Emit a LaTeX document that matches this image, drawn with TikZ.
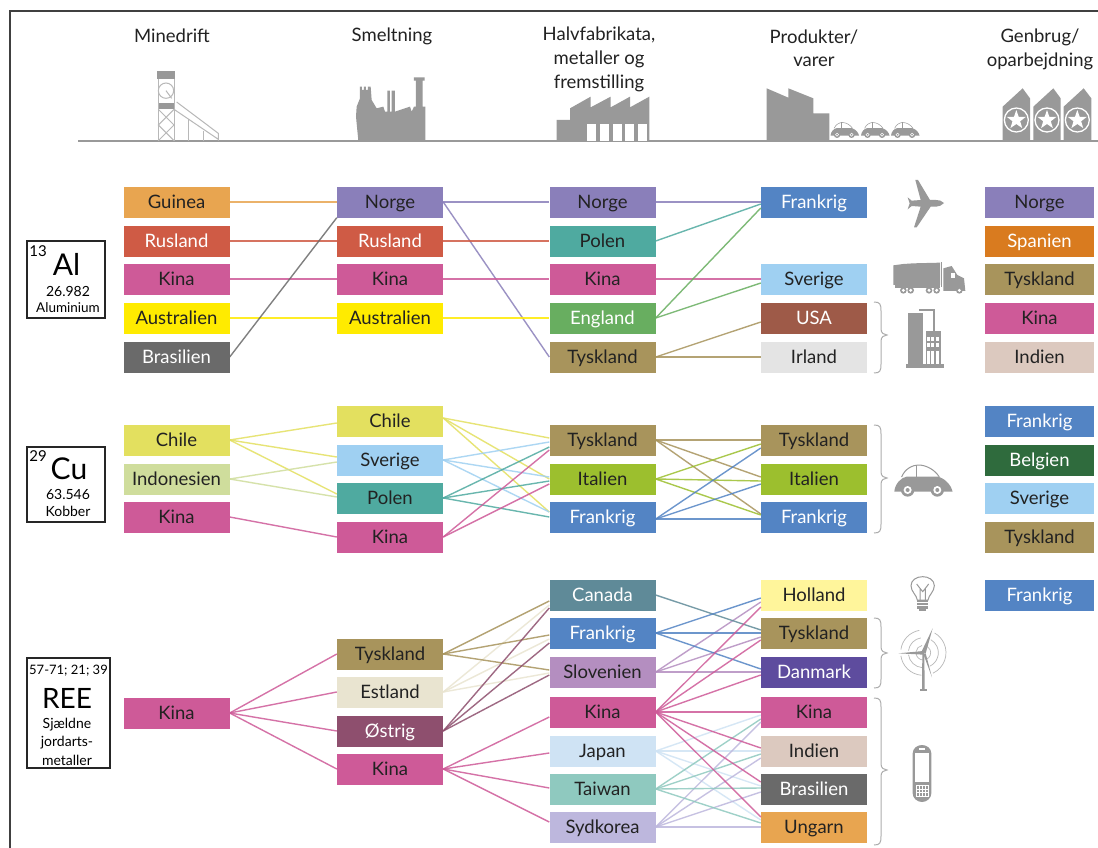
\documentclass[tikz,border=0pt]{standalone}
\usepackage{fontspec}
\setmainfont{Lato}
\definecolor{cGui}{HTML}{E8A550}
\definecolor{cRus}{HTML}{CF5B45}
\definecolor{cKin}{HTML}{CE5A98}
\definecolor{cAus}{HTML}{FFEB00}
\definecolor{cBra}{HTML}{6A6A6A}
\definecolor{cNor}{HTML}{8A7FBA}
\definecolor{cPol}{HTML}{4FAAA0}
\definecolor{cEng}{HTML}{68AE60}
\definecolor{cTys}{HTML}{A8945C}
\definecolor{cFra}{HTML}{5384C4}
\definecolor{cSve}{HTML}{9FD0F2}
\definecolor{cUSA}{HTML}{9E5A48}
\definecolor{cIrl}{HTML}{E4E4E4}
\definecolor{cSpa}{HTML}{D97B1F}
\definecolor{cInd}{HTML}{DCC9BF}
\definecolor{cChi}{HTML}{E3E05F}
\definecolor{cIdn}{HTML}{CFDD9C}
\definecolor{cIta}{HTML}{9CBF2E}
\definecolor{cBel}{HTML}{2F6B3D}
\definecolor{cCan}{HTML}{5F8A98}
\definecolor{cSlo}{HTML}{B48EC0}
\definecolor{cHol}{HTML}{FFF59B}
\definecolor{cDan}{HTML}{5E4C9E}
\definecolor{cEst}{HTML}{E9E4D0}
\definecolor{cOst}{HTML}{8E4F6E}
\definecolor{cJap}{HTML}{CFE3F4}
\definecolor{cTai}{HTML}{8FC9BF}
\definecolor{cSyd}{HTML}{BDB7DD}
\definecolor{cIcon}{HTML}{999999}
\definecolor{cInk}{HTML}{222222}
\tikzset{
  bk/.style={rectangle,minimum width=106pt,minimum height=31pt,inner sep=0pt,text height=17pt,text depth=4pt,font=\fontsize{18.5}{20}\selectfont,text=cInk},
  bw/.style={bk,text=white},
  lnk/.style={line width=1.4pt,opacity=0.85},
  head/.style={font=\fontsize{18.5}{20}\selectfont,text=cInk,inner sep=0pt},
  sm/.style={font=\fontsize{14}{16}\selectfont,text=black,inner sep=0pt},
  big/.style={font=\fontsize{30}{32}\selectfont,text=black,inner sep=0pt},
  elem/.style={draw=black!85,line width=1.5pt,fill=white},
  brace/.style={draw=cIcon!80,line width=1pt},
}
% \cn{colour}{start coordinate}{destination/offset downwards in px, ...}
\newcommand\cn[3]{\foreach \dd/\oo in {#3}{\draw[lnk,#1] (#2) -- ([yshift=-\oo pt]\dd.west);}}
\newcommand\brc[4]{\draw[brace] (#1,#2) .. controls (#1+6,#2) and (#1+7,#2+2) .. (#1+7,#2+9) -- (#1+7,#3-6) .. controls (#1+7,#3-2) and (#1+10,#3) .. (#1+13,#3) .. controls (#1+10,#3) and (#1+7,#3+2) .. (#1+7,#3+6) -- (#1+7,#4-9) .. controls (#1+7,#4-2) and (#1+6,#4) .. (#1,#4);}
\newcommand\caricon[1]{%
  \fill[cIcon] (0,80) .. controls (2,55) and (22,37) .. (37,35) -- (132,35) .. controls (157,43) and (172,65) .. (175,80) -- cycle;
  \draw[cIcon,line width=#1] (22,36) .. controls (32,10) and (57,0) .. (72,0) .. controls (97,0) and (122,15) .. (135,36);
  \draw[cIcon,line width=#1] (67,0) -- (67,36);
  \foreach \wx in {40,129}{
    \fill[cIcon] (\wx,75) circle[radius=20];
    \fill[white] (\wx,75) circle[radius=12];
    \fill[cIcon] (\wx,75) circle[radius=6];
  }
}
\newcommand\starring{%
  \draw[white,line width=1.3pt] (0,0) circle[radius=36];
  \fill[white] (270:30) -- (306:12) -- (342:30) -- (18:12) -- (54:30) -- (90:12) -- (126:30) -- (162:12) -- (198:30) -- (234:12) -- cycle;
}
\begin{document}
\begin{tikzpicture}[x=1pt,y=-1pt]
\useasboundingbox (0,0) rectangle (1098,848);
\fill[white] (0,0) rectangle (1098,848);
\draw[black!75,line width=2pt] (10,848) -- (10,11) -- (1098,11);
\draw[cIcon,line width=1.5pt] (78,141) -- (1098,141);

% headers
\node[head] (h1) at (172,36) {Minedrift};
\node[head] (h2) at (392,36) {Smeltning};
\node[head,align=center] (h3) at (599,59) {Halvfabrikata,\\[4pt]metaller og\\[4pt]fremstilling};
\node[head,align=center] (h4) at (814,48) {Produkter/\\[3pt]varer};
\node[head,align=center] (h5) at (1040,49) {Genbrug/\\[4pt]oparbejdning};

% header icons
\begin{scope}[shift={(100,0)},scale=1/3]
  \fill[cIcon] (171,214) rectangle (226,236);
  \fill[cIcon] (174,310) rectangle (222,328);
  \draw[cIcon!70,line width=1pt] (175,236) -- (175,422) (222,236) -- (222,422);
  \draw[cIcon!70,line width=1pt] (198,272) circle[radius=23];
  \draw[cIcon!70,line width=1pt] (198,272) -- (215,295);
  \draw[cIcon!70,line width=1pt] (175,328) -- (222,375) -- (175,422) (222,328) -- (175,375) -- (222,422);
  \draw[cIcon!70,line width=1pt] (222,328) -- (355,418) -- (355,422) (230,306) -- (355,400) -- (355,418);
  \draw[cIcon!70,line width=1pt] (265,358) -- (265,422) (310,392) -- (310,422);
  \fill[cIcon] (775,422) -- (768,350) -- (770,320) -- (780,295) -- (780,260) -- (786,260) -- (786,270) -- (792,270) -- (792,260) -- (798,260) -- (798,270) -- (804,270) -- (804,260) -- (812,260) -- (815,300) -- (830,325) -- (850,320) -- (855,335) -- (862,335) -- (862,272) -- (870,272) -- (870,335) -- (875,335) -- (875,272) -- (885,272) -- (885,335) -- (900,330) -- (930,320) -- (935,335) -- (942,320) -- (948,320) -- (948,242) -- (942,242) -- (942,232) -- (974,232) -- (974,242) -- (968,242) -- (968,320) -- (976,320) -- (976,422) -- cycle;
\end{scope}
\begin{scope}[shift={(540,40)},scale=1/3]
  \fill[cIcon] (50,302) -- (50,240) -- (90,240) -- (90,205) -- (152,170) -- (152,202) -- (212,170) -- (212,202) -- (270,170) -- (270,202) -- (328,170) -- (328,302) -- cycle;
  \foreach \wx in {140,179,218,256,295}{\fill[white] (\wx,252) rectangle (\wx+27,302);}
\end{scope}
\begin{scope}[shift={(700,0)},scale=1/3]
  \fill[cIcon] (200,422) -- (200,265) -- (265,293) -- (265,265) -- (340,295) -- (340,340) -- (388,340) -- (388,422) -- cycle;
  \fill[cIcon] (908,422) -- (908,320) -- (968,265) -- (990,295) -- (990,422) -- cycle;
  \fill[cIcon] (1000,422) -- (1000,320) -- (1060,265) -- (1082,295) -- (1082,422) -- cycle;
  \fill[cIcon] (1091,422) -- (1091,320) -- (1151,265) -- (1174,295) -- (1174,422) -- cycle;
  \begin{scope}[shift={(949,360)}]\starring\end{scope}
  \begin{scope}[shift={(1041,360)}]\starring\end{scope}
  \begin{scope}[shift={(1132,360)}]\starring\end{scope}
\end{scope}
\begin{scope}[shift={(830.5,122.5)},scale=0.163]\caricon{0.5pt}\end{scope}
\begin{scope}[shift={(861,122.5)},scale=0.163]\caricon{0.5pt}\end{scope}
\begin{scope}[shift={(891,122.5)},scale=0.163]\caricon{0.5pt}\end{scope}

% element boxes
\draw[elem] (27,241) rectangle (105,318);
\node[sm,font=\fontsize{15}{16}\selectfont] (e1n) at (38,251) {13};
\node[big] (e1s) at (66.5,264) {Al};
\node[sm] (e1m) at (68,291) {26.982};
\node[sm,font=\fontsize{13.5}{16}\selectfont] (e1t) at (68,308) {Aluminium};

\draw[elem] (27,447) rectangle (105,522);
\node[sm,font=\fontsize{15}{16}\selectfont] (e2n) at (38,456) {29};
\node[big] (e2s) at (69,469) {Cu};
\node[sm] (e2m) at (68,494) {63.546};
\node[sm] (e2t) at (68,511) {Kobber};

\draw[elem] (27,658) rectangle (110,768);
\node[sm,font=\fontsize{13}{16}\selectfont] (e3n) at (68.5,671) {57-71; 21; 39};
\node[big,font=\fontsize{28}{30}\selectfont] (e3s) at (67,698) {REE};
\node[sm] (e3a) at (67,725) {Sjældne};
\node[sm] (e3b) at (67,743) {jordarts-};
\node[sm] (e3c) at (67,760) {metaller};

% Aluminium
\node[bk,fill=cGui] (a1a) at (176.5,202) {Guinea};
\node[bw,fill=cRus] (a1b) at (176.5,241) {Rusland};
\node[bk,fill=cKin] (a1c) at (176.5,279) {Kina};
\node[bk,fill=cAus] (a1d) at (176.5,318) {Australien};
\node[bw,fill=cBra] (a1e) at (176.5,357) {Brasilien};
\node[bk,fill=cNor] (a2a) at (390,202) {Norge};
\node[bw,fill=cRus] (a2b) at (390,241) {Rusland};
\node[bk,fill=cKin] (a2c) at (390,279) {Kina};
\node[bk,fill=cAus] (a2d) at (390,318) {Australien};
\node[bk,fill=cNor] (a3a) at (602.5,202) {Norge};
\node[bk,fill=cPol] (a3b) at (602.5,241) {Polen};
\node[bk,fill=cKin] (a3c) at (602.5,279) {Kina};
\node[bw,fill=cEng] (a3d) at (602.5,318) {England};
\node[bk,fill=cTys] (a3e) at (602.5,357) {Tyskland};
\node[bw,fill=cFra] (a4a) at (814,202) {Frankrig};
\node[bk,fill=cSve] (a4b) at (814,279) {Sverige};
\node[bw,fill=cUSA] (a4c) at (814,318) {USA};
\node[bk,fill=cIrl] (a4d) at (814,357) {Irland};
\node[bk,fill=cNor,minimum width=109pt] (a5a) at (1039.5,202) {Norge};
\node[bw,fill=cSpa,minimum width=109pt] (a5b) at (1039.5,241) {Spanien};
\node[bk,fill=cTys,minimum width=109pt] (a5c) at (1039.5,279) {Tyskland};
\node[bk,fill=cKin,minimum width=109pt] (a5d) at (1039.5,318) {Kina};
\node[bk,fill=cInd,minimum width=109pt] (a5e) at (1039.5,357) {Indien};
\cn{cGui}{a1a.east}{a2a/0}
\cn{cRus}{a1b.east}{a2b/0}
\cn{cKin}{a1c.east}{a2c/0}
\cn{cAus}{a1d.east}{a2d/0}
\draw[lnk,cBra] (a1e.east) -- (a2a.south west);
\cn{cNor}{a2a.east}{a3a/0,a3e/0}
\cn{cRus}{a2b.east}{a3b/0}
\cn{cKin}{a2c.east}{a3c/0}
\cn{cAus}{a2d.east}{a3d/0}
\cn{cNor}{a3a.east}{a4a/0}
\cn{cPol}{a3b.east}{a4a/2}
\cn{cKin}{a3c.east}{a4b/0}
\cn{cEng}{a3d.east}{a4a/6,a4b/4}
\cn{cTys}{a3e.east}{a4c/4,a4d/0}

% Copper
\node[bk,fill=cChi] (c1a) at (176.5,440) {Chile};
\node[bk,fill=cIdn] (c1b) at (176.5,479) {Indonesien};
\node[bk,fill=cKin] (c1c) at (176.5,517) {Kina};
\node[bk,fill=cChi] (c2a) at (390,421) {Chile};
\node[bk,fill=cSve] (c2b) at (390,460) {Sverige};
\node[bk,fill=cPol] (c2c) at (390,498) {Polen};
\node[bk,fill=cKin] (c2d) at (390,537) {Kina};
\node[bk,fill=cTys] (c3a) at (602.5,440) {Tyskland};
\node[bk,fill=cIta] (c3b) at (602.5,479) {Italien};
\node[bw,fill=cFra] (c3c) at (602.5,517) {Frankrig};
\node[bk,fill=cTys] (c4a) at (814,440) {Tyskland};
\node[bk,fill=cIta] (c4b) at (814,479) {Italien};
\node[bw,fill=cFra] (c4c) at (814,517) {Frankrig};
\node[bw,fill=cFra,minimum width=109pt] (c5a) at (1039.5,421) {Frankrig};
\node[bw,fill=cBel,minimum width=109pt] (c5b) at (1039.5,460) {Belgien};
\node[bk,fill=cSve,minimum width=109pt] (c5c) at (1039.5,498) {Sverige};
\node[bk,fill=cTys,minimum width=109pt] (c5d) at (1039.5,537) {Tyskland};
\cn{cChi}{c1a.east}{c2a/2,c2b/-3,c2c/-4}
\cn{cIdn}{c1b.east}{c2b/2,c2c/-1}
\cn{cKin}{c1c.east}{c2d/0}
\cn{cChi}{[yshift=3pt]c2a.east}{c3a/-2,c3b/0,c3c/-5}
\cn{cSve}{c2b.east}{c3a/2,c3b/-2,c3c/-5}
\cn{cPol}{c2c.east}{c3a/7,c3b/2,c3c/0}
\cn{cKin}{c2d.east}{c3a/10,c3b/5}
\cn{cTys}{c3a.east}{c4a/0,c4b/-2,c4c/-3}
\cn{cIta}{c3b.east}{c4a/4,c4b/2,c4c/-2}
\cn{cFra}{[yshift=-2pt]c3c.east}{c4a/8,c4b/5,c4c/2}

% Rare earths
\node[bk,fill=cKin] (r1a) at (176.5,713) {Kina};
\node[bk,fill=cTys] (r2a) at (390,654) {Tyskland};
\node[bk,fill=cEst] (r2b) at (390,692) {Estland};
\node[bw,fill=cOst] (r2c) at (390,731) {Østrig};
\node[bk,fill=cKin] (r2d) at (390,769) {Kina};
\node[bw,fill=cCan] (r3a) at (602.5,595) {Canada};
\node[bw,fill=cFra] (r3b) at (602.5,633) {Frankrig};
\node[bk,fill=cSlo] (r3c) at (602.5,672) {Slovenien};
\node[bk,fill=cKin] (r3d) at (602.5,712) {Kina};
\node[bk,fill=cJap] (r3e) at (602.5,751) {Japan};
\node[bk,fill=cTai] (r3f) at (602.5,789) {Taiwan};
\node[bk,fill=cSyd] (r3g) at (602.5,827) {Sydkorea};
\node[bk,fill=cHol] (r4a) at (814,595) {Holland};
\node[bk,fill=cTys] (r4b) at (814,633) {Tyskland};
\node[bw,fill=cDan] (r4c) at (814,672) {Danmark};
\node[bk,fill=cKin] (r4d) at (814,712) {Kina};
\node[bk,fill=cInd] (r4e) at (814,751) {Indien};
\node[bw,fill=cBra] (r4f) at (814,789) {Brasilien};
\node[bk,fill=cGui] (r4g) at (814,827) {Ungarn};
\node[bw,fill=cFra,minimum width=109pt] (r5a) at (1039.5,595) {Frankrig};
\cn{cKin}{r1a.east}{r2a/0,r2b/0,r2c/0,r2d/0}
\cn{cEst}{r2b.east}{r3a/10,r3b/6,r3c/1}
\cn{cTys}{r2a.east}{r3a/6,r3b/2,r3c/-2}
\cn{cOst}{r2c.east}{r3a/13,r3b/10,r3c/3}
\cn{cKin}{r2d.east}{r3d/5,r3e/2,r3f/-1,r3g/-5}
\cn{cJap}{r3e.east}{r4d/3,r4e/0,r4f/-3,r4g/-7}
\cn{cSyd}{r3g.east}{r4d/10,r4e/7,r4f/3,r4g/0}
\cn{cTai}{r3f.east}{r4d/7,r4e/3,r4f/-1,r4g/-4}
\cn{cSlo}{r3c.east}{r4a/7,r4b/4,r4c/0}
\cn{cCan}{r3a.east}{r4b/-3}
\cn{cFra}{r3b.east}{r4a/3,r4b/0,r4c/-3}
\cn{cKin}{r3d.east}{r4a/12,r4b/7,r4c/3,r4d/0,r4e/-3,r4f/-7,r4g/-10}

% braces
\brc{874}{302}{335}{373}
\brc{874}{425}{478}{533}
\brc{874}{618}{653}{688}
\brc{874}{698}{770}{845}

% right-hand icons
\begin{scope}[shift={(860,170)},scale=1/3]
  \fill[cIcon] (252,99) .. controls (245,92) and (238,90) .. (228,90) -- (210,90) -- (174,30) -- (166,30) -- (182,90) -- (155,92) -- (143,82) -- (149,100) -- (143,118) -- (155,108) -- (182,110) -- (162,172) -- (170,172) -- (212,110) -- (228,110) .. controls (238,110) and (245,106) .. (252,99) -- cycle;
  \fill[cIcon] (100,286) -- (130,282) -- (160,280) -- (240,278) -- (240,345) -- (100,345) -- cycle;
  \fill[cIcon] (105,345) rectangle (240,353);
  \fill[cIcon] (243,275) rectangle (247,352);
  \fill[cIcon] (250,295) -- (275,288) -- (292,315) -- (312,325) -- (316,363) -- (250,363) -- cycle;
  \fill[white] (273,310) rectangle (285,325);
  \foreach \wx in {130,152,207,230,298}{
    \fill[cIcon] (\wx,361) circle[radius=10];
    \fill[white] (\wx,361) circle[radius=5];
  }
  \fill[cIcon] (145,430) rectangle (190,582);
  \fill[cIcon] (138,582) rectangle (252,593);
  \draw[cIcon,line width=1.6pt] (178,420) -- (222,420) -- (222,482);
  \fill[cIcon] (197,482) rectangle (242,582);
  \foreach \wx in {200,214,228}{\foreach \wy in {500,520}{\fill[white] (\wx,\wy) rectangle (\wx+9,\wy+12);}}
  \foreach \wx in {200,214,228}{\fill[white] (\wx,542) rectangle (\wx+9,582);}
\end{scope}
\begin{scope}[shift={(894.3,465)},scale=1/3]\caricon{1pt}\end{scope}
\begin{scope}[shift={(860,420)},scale=1/3]
  \draw[cIcon,line width=1pt] (172,540) .. controls (170,525) and (153,515) .. (153,497) .. controls (153,480) and (170,470) .. (188,470) .. controls (206,470) and (223,480) .. (223,497) .. controls (223,515) and (206,525) .. (204,540) -- cycle;
  \draw[cIcon,line width=1pt] (180,540) -- (180,505) -- (170,492) (196,540) -- (196,505) -- (206,492) (180,505) -- (188,515) -- (196,505);
  \fill[cIcon] (171,540) rectangle (205,566);
  \draw[white,line width=0.6pt] (171,548) -- (205,548) (171,556) -- (205,556);
  \fill[cIcon] (178,566) rectangle (198,573);
  \foreach \rr in {22,45,68}{
    \draw[cIcon!70,line width=0.7pt] ([shift={(190,698)}]-100:\rr) arc[start angle=-100,end angle=-172,radius=\rr];
    \draw[cIcon!70,line width=0.7pt] ([shift={(190,698)}]172:\rr) arc[start angle=172,end angle=95,radius=\rr];
    \draw[cIcon!70,line width=0.7pt] ([shift={(190,698)}]65:\rr) arc[start angle=65,end angle=-60,radius=\rr];
  }
  \fill[cIcon] (187,700) -- (193,700) -- (194,808) -- (186,808) -- cycle;
  \fill[cIcon] (181,808) rectangle (200,814);
  \fill[cIcon] (186,692) -- (218,625) -- (197,700) -- cycle;
  \fill[cIcon] (190,693) -- (115,700) -- (190,704) -- cycle;
  \fill[cIcon] (190,702) -- (197,700) -- (216,772) -- cycle;
  \fill[cIcon] (190,698) circle[radius=5];
  \fill[cIcon] (158,1000) .. controls (158,985) and (172,975) .. (186,975) .. controls (200,975) and (214,985) .. (214,1000) -- (214,1120) .. controls (214,1135) and (200,1146) .. (186,1146) .. controls (172,1146) and (158,1135) .. (158,1120) -- cycle;
  \fill[white] (165,998) rectangle (208,1085);
  \fill[white] (176,985) rectangle (196,991);
  \draw[white,line width=0.6pt] (168,1095) -- (204,1095) -- (204,1130) -- (168,1130) -- cycle (168,1107) -- (204,1107) (168,1118) -- (204,1118) (177,1095) -- (177,1130) (186,1095) -- (186,1130) (195,1095) -- (195,1130);
\end{scope}
\end{tikzpicture}
\end{document}
